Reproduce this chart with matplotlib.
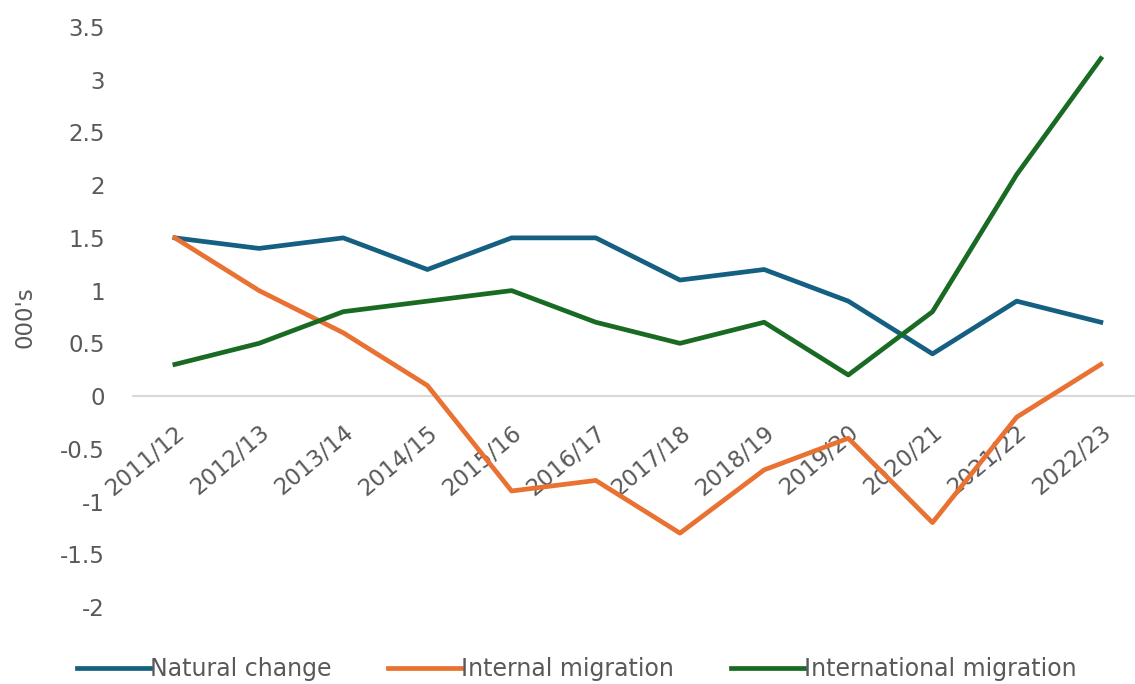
import matplotlib.pyplot as plt

years = ["2011/12", "2012/13", "2013/14", "2014/15", "2015/16", "2016/17",
         "2017/18", "2018/19", "2019/20", "2020/21", "2021/22", "2022/23"]
natural_change = [1.5, 1.4, 1.5, 1.2, 1.5, 1.5, 1.1, 1.2, 0.9, 0.4, 0.9, 0.7]
internal_migration = [1.5, 1.0, 0.6, 0.1, -0.9, -0.8, -1.3, -0.7, -0.4, -1.2, -0.2, 0.3]
international_migration = [0.3, 0.5, 0.8, 0.9, 1.0, 0.7, 0.5, 0.7, 0.2, 0.8, 2.1, 3.2]
y_ticks = [-2, -1.5, -1, -0.5, 0, 0.5, 1, 1.5, 2, 2.5, 3, 3.5]

plt.rcParams['font.family'] = ['DejaVu Sans']
text_grey = "#595959"

fig = plt.figure(figsize=(11.35, 6.84), dpi=100)
ax = fig.add_axes([0.117, 0.1126, 0.89, 0.848])

x = list(range(len(years)))
ax.plot(x, natural_change, color="#156082", lw=3.4, label="Natural change", solid_joinstyle="round")
ax.plot(x, internal_migration, color="#E97132", lw=3.4, label="Internal migration", solid_joinstyle="round")
ax.plot(x, international_migration, color="#196B24", lw=3.4, label="International migration", solid_joinstyle="round")

# x axis sits on the zero line
for side in ["top", "right", "left"]:
    ax.spines[side].set_visible(False)
ax.spines["bottom"].set_position(("data", 0))
ax.spines["bottom"].set_color("#D9D9D9")
ax.spines["bottom"].set_linewidth(1.5)
ax.spines["bottom"].set_zorder(0)

ax.set_xlim(-0.5, len(years) - 0.5)
ax.set_ylim(-2, 3.5)
ax.set_yticks(y_ticks)
ax.set_yticklabels([f"{v:g}" for v in y_ticks])
ax.set_xticks(x)
ax.set_xticklabels(years)

ax.tick_params(axis="y", length=0, pad=20, labelsize=16.5, labelcolor=text_grey)
ax.tick_params(axis="x", length=0, pad=18, labelsize=16.5, labelcolor=text_grey)
plt.setp(ax.get_xticklabels(), rotation=40, ha="right", rotation_mode="anchor")
ax.set_ylabel("000's", fontsize=16.5, color=text_grey, labelpad=17)

fig.legend(loc="lower center", bbox_to_anchor=(0.508, -0.027), ncol=3, frameon=False,
           fontsize=17, handlelength=3.1, handletextpad=0.0, columnspacing=2.4,
           labelcolor=text_grey)

fig.savefig("out.png", dpi=100)
